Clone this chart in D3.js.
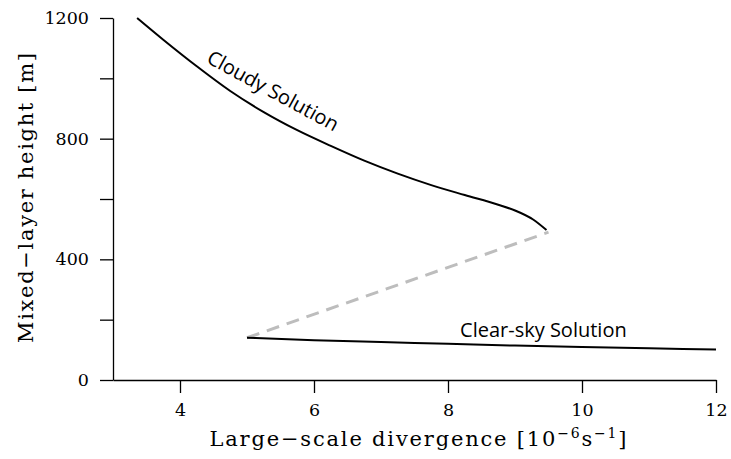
<!DOCTYPE html>
<html>
<head>
<meta charset="utf-8">
<script src="https://cdn.jsdelivr.net/npm/d3@7"></script>
<style>
  body { margin: 0; background: #fff; }
  .axis text { font-family: "DejaVu Serif", serif; font-size: 17.5px; fill: #000; }
  .axis path, .axis line { stroke: #000; stroke-width: 1.3; }
  .note { font-family: "Open Sans", sans-serif; font-size: 20px; fill: #000; }
  .title { font-family: "DejaVu Serif", serif; font-size: 21px; fill: #000; }
</style>
</head>
<body>
<div id="chart"></div>
<script>
// cloudy branch (upper solution)
var cloudyX = [3.36, 3.75, 4.25, 4.75, 5.25, 5.75, 6.25, 6.75, 7.25, 7.75, 8.25, 8.75, 9.0, 9.27, 9.47];
var cloudyY = [1200, 1128, 1040, 958, 888, 828, 776, 727, 684, 646, 613, 581, 562, 532, 497];

// clear-sky branch (lower solution)
var clearX = [5.0, 6.0, 7.0, 8.0, 9.0, 10.0, 11.0, 12.0];
var clearY = [140, 132, 126, 120, 114, 109, 105, 101];

// unstable branch, dashed
var unstableX = [5.0, 9.5];
var unstableY = [140, 490];

var xTicks = [4, 6, 8, 10, 12];
var yTicks = [0, 200, 400, 600, 800, 1000, 1200];
var yLabelled = [0, 400, 800, 1200];

var width = 731,
  height = 459;

var x = d3.scaleLinear().domain([3, 12]).range([113, 716]);
var y = d3.scaleLinear().domain([0, 1200]).range([380, 18]);

var svg = d3.select("#chart").append("svg")
  .attr("width", width)
  .attr("height", height);

svg.append("g")
  .attr("class", "axis")
  .attr("transform", "translate(0," + y(0) + ")")
  .call(d3.axisBottom(x).tickValues(xTicks).tickSize(13).tickSizeOuter(0).tickPadding(11));

svg.append("g")
  .attr("class", "axis")
  .attr("transform", "translate(" + x(3) + ",0)")
  .call(d3.axisLeft(y).tickValues(yTicks).tickSize(13).tickSizeOuter(0).tickPadding(11)
    .tickFormat(function(d) { return yLabelled.indexOf(d) >= 0 ? d : ""; }));

var line = d3.line()
  .x(function(d) { return x(d[0]); })
  .y(function(d) { return y(d[1]); })
  .curve(d3.curveMonotoneX);

var zip = function(a, b) { return a.map(function(v, i) { return [v, b[i]]; }); };

svg.append("path")
  .datum(zip(unstableX, unstableY))
  .attr("d", line)
  .attr("fill", "none")
  .attr("stroke", "#bdbdbd")
  .attr("stroke-width", 3)
  .attr("stroke-dasharray", "13,8");

svg.append("path")
  .datum(zip(cloudyX, cloudyY))
  .attr("d", line)
  .attr("fill", "none")
  .attr("stroke", "#000")
  .attr("stroke-width", 2);

svg.append("path")
  .datum(zip(clearX, clearY))
  .attr("d", line)
  .attr("fill", "none")
  .attr("stroke", "#000")
  .attr("stroke-width", 2);

// branch labels
svg.append("text")
  .attr("class", "note")
  .attr("transform", "translate(" + x(4.38) + "," + y(1054) + ") rotate(28.5)")
  .text("Cloudy Solution");

svg.append("text")
  .attr("class", "note")
  .attr("x", x(8.18))
  .attr("y", y(143))
  .text("Clear-sky Solution");

// axis titles
var xt = svg.append("text")
  .attr("class", "title")
  .attr("x", 418)
  .attr("y", 446)
  .attr("text-anchor", "middle")
  .attr("textLength", 417)
  .attr("lengthAdjust", "spacing");
xt.append("tspan").text("Large\u2212scale divergence [10");
xt.append("tspan").attr("dy", -8).attr("font-size", 14).text("\u22126");
xt.append("tspan").attr("dy", 8).text("s");
xt.append("tspan").attr("dy", -8).attr("font-size", 14).text("\u22121");
xt.append("tspan").attr("dy", 8).text("]");

svg.append("text")
  .attr("class", "title")
  .attr("transform", "translate(33,198) rotate(-90)")
  .attr("text-anchor", "middle")
  .attr("textLength", 290)
  .attr("lengthAdjust", "spacing")
  .text("Mixed\u2212layer height [m]");
</script>
</body>
</html>
